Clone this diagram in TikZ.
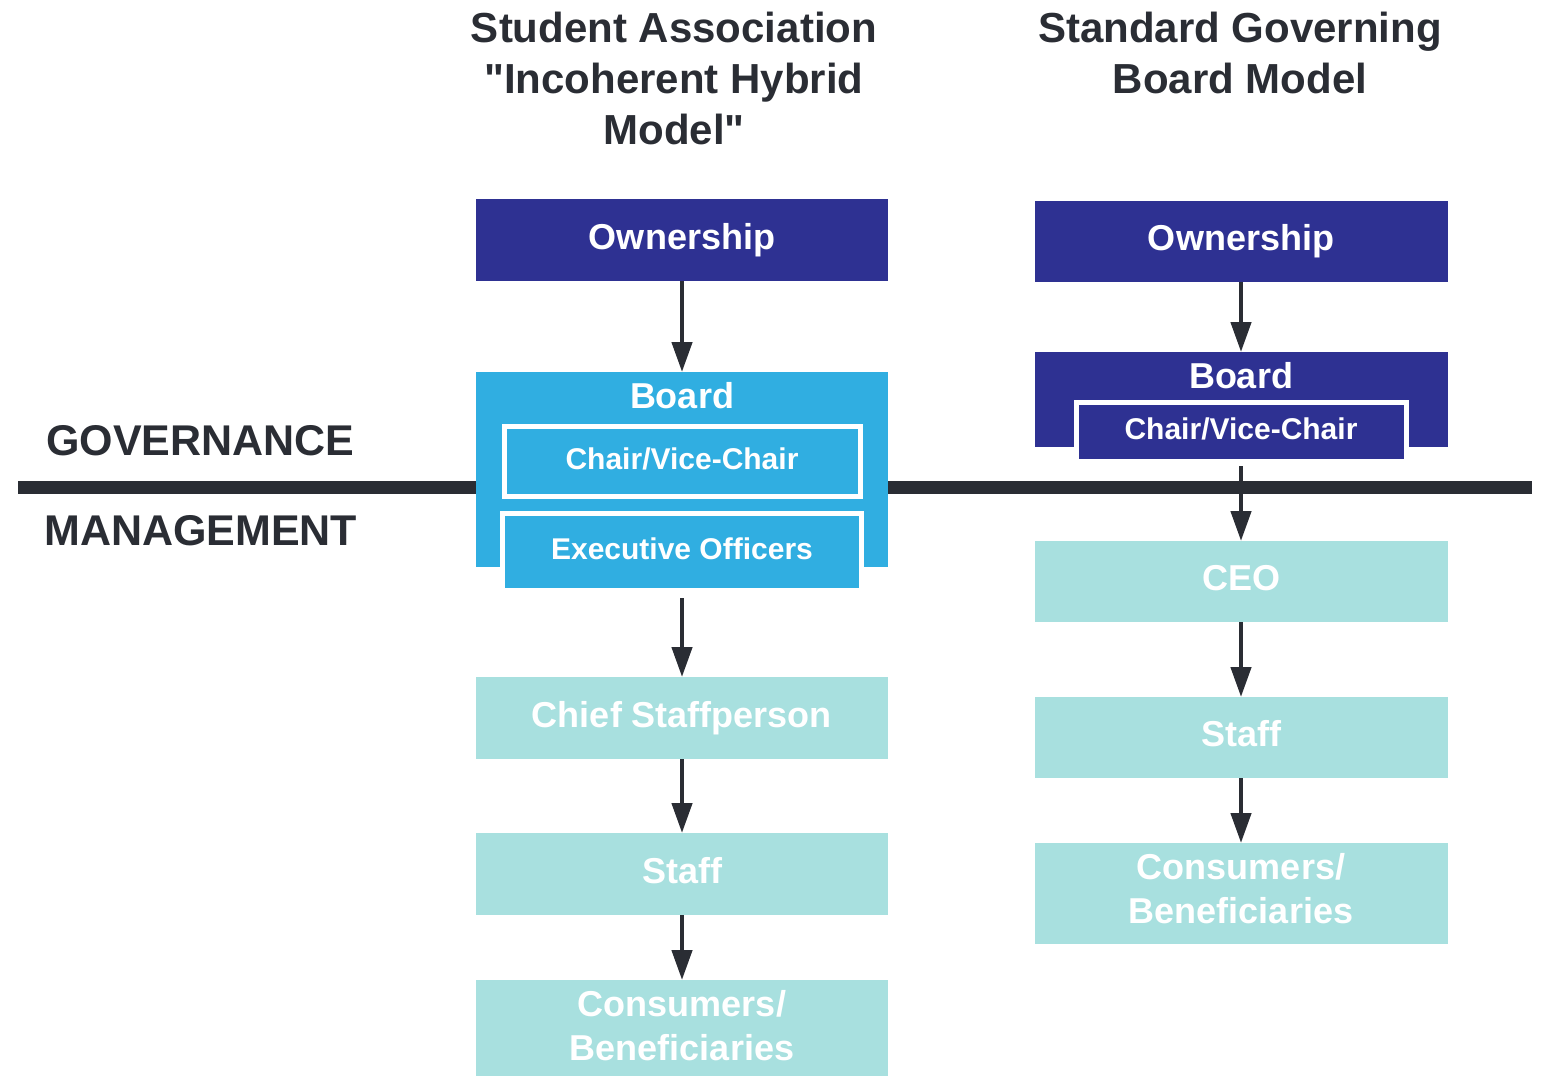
\documentclass[tikz,border=0pt]{standalone}
\usepackage{fontspec}
\setmainfont{Liberation Sans}[Ligatures=TeXOff]
\usetikzlibrary{arrows.meta}
\definecolor{navy}{HTML}{2E3192}
\definecolor{sky}{HTML}{30AEE1}
\definecolor{tealbox}{HTML}{A8E0DF}
\definecolor{ink}{HTML}{2A2D34}
\begin{document}
\begin{tikzpicture}[x=1pt,y=-1pt,
  box/.style={rectangle, inner sep=0pt, outer sep=0pt, minimum width=412pt, text=white,
    font=\bfseries\fontsize{36}{44}\selectfont, align=center},
  oneline/.style={text height=26pt, text depth=8pt},
  smallline/.style={text height=21.6pt, text depth=6.6pt},
  boxlabel/.style={text=white, font=\bfseries\fontsize{36}{44}\selectfont, align=center, inner sep=0pt},
  ownbox/.style={box, oneline, fill=navy, minimum height=82pt},
  lowbox/.style={box, fill=tealbox, minimum height=82pt},
  subbox/.style={rectangle, inner sep=0pt, draw=white, line width=5pt, text=white,
    font=\bfseries\fontsize{30}{36}\selectfont, smallline},
  titletext/.style={text=ink, font=\bfseries\fontsize{42}{51}\selectfont, align=center, inner sep=0pt},
  sidetext/.style={text=ink, font=\bfseries\fontsize{43}{51}\selectfont, inner sep=0pt},
  arr/.style={draw=ink, line width=4.5pt, -{Triangle[width=20pt,length=30pt]}},
  rule/.style={draw=ink, line width=13pt}
]
\useasboundingbox (0,0) rectangle (1545,1076);

% titles
\node[titletext] (title1) at (674,78) {Student Association\\"Incoherent Hybrid\\Model"};
\node[titletext] (title2) at (1240,52.5) {Standard Governing\\Board Model};

% side labels
\node[sidetext, anchor=base west] (gov) at (46,455) {GOVERNANCE};
\node[sidetext, anchor=base west] (mgmt) at (44,545) {MANAGEMENT};

% dividing rule
\coordinate (ruleL) at (18,487);
\coordinate (ruleR) at (1532,487);
\draw[rule] (ruleL) -- (ruleR);

% ---------- left column ----------
\node[ownbox] (own1) at (682,240) {Ownership};
\node[box, fill=sky, anchor=north, minimum height=195pt] (board1) at (682,372) {};
\node[boxlabel, oneline] (board1lbl) at (682,399) {Board};
\node[subbox, fill=sky, minimum width=356pt, minimum height=70pt] (chair1) at (682,461.5) {Chair/Vice-Chair};
\node[subbox, fill=sky, minimum width=359pt, minimum height=77pt] (exec1) at (682,552) {Executive Officers};
\node[lowbox, oneline] (chief1) at (682,718) {Chief Staffperson};
\node[lowbox, oneline] (staff1) at (682,874) {Staff};
\node[lowbox, minimum height=100pt] (cons1) at (682,1030) {};
\node[boxlabel] (cons1lbl) at (682,1025.5) {Consumers/\\Beneficiaries};

\draw[arr] (own1.south) -- (board1.north);
\draw[arr, shorten <=5pt] (exec1.south) -- (chief1.north);
\draw[arr] (chief1.south) -- (staff1.north);
\draw[arr] (staff1.south) -- (cons1.north);

% ---------- right column ----------
\node[ownbox, minimum width=413pt, minimum height=81pt] (own2) at (1241,241.5) {Ownership};
\node[box, fill=navy, minimum width=413pt, minimum height=95pt] (board2) at (1241,399.5) {};
\node[boxlabel, oneline] (board2lbl) at (1241,379) {Board};
\node[subbox, fill=navy, minimum width=330pt, minimum height=59pt] (chair2) at (1241,432) {Chair/Vice-Chair};
\node[lowbox, oneline, minimum width=413pt, minimum height=81pt] (ceo) at (1241,581.5) {CEO};
\node[lowbox, oneline, minimum width=413pt, minimum height=81pt] (staff2) at (1241,737.5) {Staff};
\node[lowbox, minimum width=413pt, minimum height=101pt] (cons2) at (1241,893.5) {};
\node[boxlabel] (cons2lbl) at (1241,889) {Consumers/\\Beneficiaries};

\draw[arr] (own2.south) -- (board2.north);
\draw[arr, shorten <=2pt] (chair2.south) -- (ceo.north);
\draw[arr] (ceo.south) -- (staff2.north);
\draw[arr] (staff2.south) -- (cons2.north);
\end{tikzpicture}
\end{document}
